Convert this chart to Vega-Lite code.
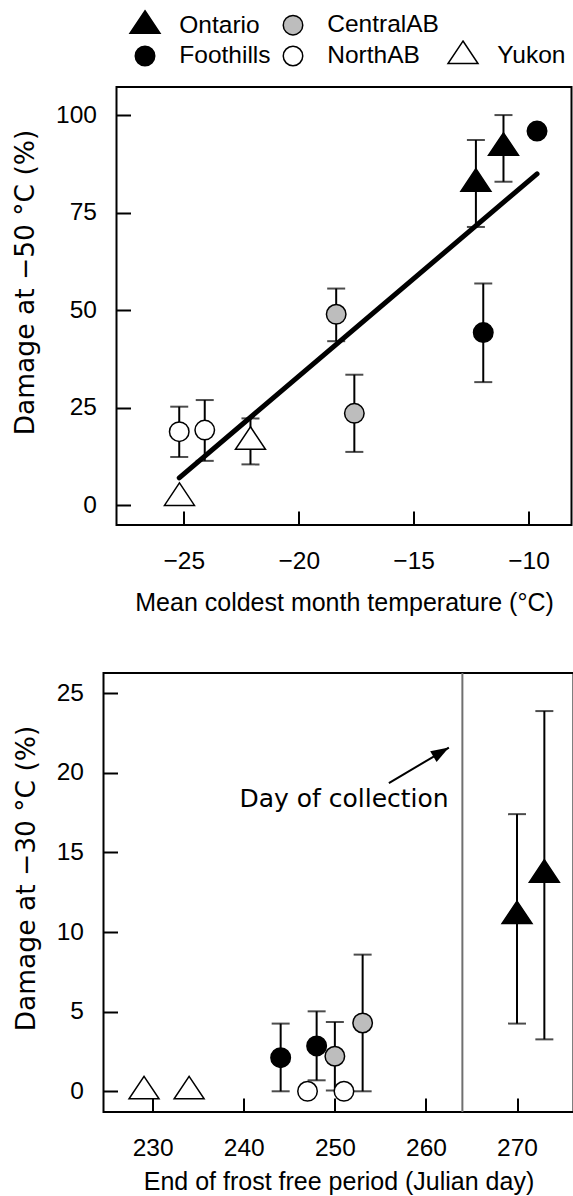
{
  "$schema": "https://vega.github.io/schema/vega-lite/v6.json",
  "background": "white",
  "padding": {"left": 4.5, "top": 8, "right": 0, "bottom": 0},
  "config": {
    "font": "Liberation Sans",
    "view": {"stroke": "black", "strokeWidth": 2},
    "axis": {
      "domain": false, "grid": false, "ticks": true, "tickSize": -14, "tickWidth": 2, "tickColor": "black",
      "labelFont": "Liberation Sans", "labelFontSize": 24.5, "labelColor": "black",
      "titleFont": "Liberation Sans", "titleFontSize": 25, "titleFontWeight": "normal", "titleColor": "black"
    },
    "axisX": {"labelPadding": 38, "titlePadding": 10},
    "axisY": {"labelPadding": 34, "titlePadding": 16, "titleFont": "DejaVu Sans", "titleFontSize": 26.5},
    "legend": {
      "orient": "none", "legendX": 12.5, "legendY": -78, "columns": 3, "title": null,
      "labelFont": "Liberation Sans", "labelFontSize": 24.5, "labelColor": "black", "labelOffset": 18.3,
      "rowPadding": 0, "columnPadding": 6, "symbolStrokeWidth": 1.5, "symbolSize": 900, "padding": 0
    }
  },
  "datasets": {
    "cold": [
      {"site": "Yukon", "temp": -25.19, "dmg": 1.9, "lo": null, "hi": null},
      {"site": "NorthAB", "temp": -25.2, "dmg": 18.9, "lo": 12.4, "hi": 25.3},
      {"site": "NorthAB", "temp": -24.09, "dmg": 19.3, "lo": 11.4, "hi": 27.0},
      {"site": "Yukon", "temp": -22.1, "dmg": 16.3, "lo": 10.5, "hi": 22.3},
      {"site": "CentralAB", "temp": -18.37, "dmg": 49.0, "lo": 42.1, "hi": 55.6},
      {"site": "CentralAB", "temp": -17.58, "dmg": 23.6, "lo": 13.7, "hi": 33.5},
      {"site": "Ontario", "temp": -12.29, "dmg": 82.5, "lo": 71.4, "hi": 93.7},
      {"site": "Ontario", "temp": -11.09, "dmg": 91.7, "lo": 83.0, "hi": 100.1},
      {"site": "Foothills", "temp": -11.97, "dmg": 44.3, "lo": 31.6, "hi": 56.9},
      {"site": "Foothills", "temp": -9.63, "dmg": 96.0, "lo": null, "hi": null}
    ],
    "frost": [
      {"site": "Yukon", "day": 229.05, "dmg": 0, "lo": null, "hi": null},
      {"site": "Yukon", "day": 234.0, "dmg": 0, "lo": null, "hi": null},
      {"site": "Foothills", "day": 244.05, "dmg": 2.11, "lo": 0, "hi": 4.25},
      {"site": "Foothills", "day": 248.0, "dmg": 2.85, "lo": 0.69, "hi": 5.02},
      {"site": "CentralAB", "day": 250.0, "dmg": 2.2, "lo": 0.05, "hi": 4.35},
      {"site": "CentralAB", "day": 253.05, "dmg": 4.29, "lo": 0, "hi": 8.58},
      {"site": "NorthAB", "day": 247.0, "dmg": 0, "lo": null, "hi": null},
      {"site": "NorthAB", "day": 251.0, "dmg": 0, "lo": null, "hi": null},
      {"site": "Ontario", "day": 270.0, "dmg": 11.0, "lo": 4.25, "hi": 17.4},
      {"site": "Ontario", "day": 273.0, "dmg": 13.6, "lo": 3.26, "hi": 23.87}
    ],
    "collection": [{"day": 264}],
    "arrow": [{"day": 255.93, "dmg": 19.35, "day2": 262.52, "dmg2": 21.58}],
    "note": [{"day": 262.5, "dmg": 17.85, "label": "Day of collection"}],
    "spacer": [{}]
  },
  "resolve": {"scale": {"shape": "independent", "fill": "independent", "stroke": "independent"}},
  "columns": 1,
  "spacing": 53,
  "concat": [
    {
      "resolve": {"scale": {"shape": "independent", "fill": "independent", "stroke": "independent"}},
      "spacing": 0,
      "hconcat": [
        {
          "width": 1, "height": 1,
          "view": {"stroke": null},
          "data": {"name": "spacer"},
          "mark": {"type": "point", "opacity": 0},
          "encoding": {}
        },
        {
          "width": 455,
          "height": 438,
          "data": {"name": "cold"},
          "encoding": {
            "x": {"field": "temp", "type": "quantitative", "title": "Mean coldest month temperature (°C)",
                  "scale": {"domain": [-27.93, -8.13], "nice": false, "zero": false},
                  "axis": {"values": [-25, -20, -15, -10], "titlePadding": 18}},
            "y": {"field": "dmg", "type": "quantitative", "title": "Damage at −50 °C (%)",
                  "scale": {"domain": [-5.05, 107.3], "nice": false, "zero": false},
                  "axis": {"values": [0, 25, 50, 75, 100], "titleY": 195}}
          },
          "layer": [
            {
              "transform": [{"regression": "dmg", "on": "temp"}],
              "mark": {"type": "line", "color": "black", "strokeWidth": 5, "strokeCap": "round"},
              "encoding": {}
            },
            {
              "transform": [{"filter": "isValid(datum.lo)"}],
              "mark": {"type": "rule", "color": "black", "strokeWidth": 2},
              "encoding": {"y": {"field": "lo", "type": "quantitative", "title": "Damage at −50 °C (%)"}, "y2": {"field": "hi"}}
            },
            {
              "transform": [{"filter": "isValid(datum.lo)"}],
              "mark": {"type": "tick", "orient": "horizontal", "color": "black", "size": 18, "thickness": 2},
              "encoding": {"y": {"field": "lo", "type": "quantitative", "title": "Damage at −50 °C (%)"}}
            },
            {
              "transform": [{"filter": "isValid(datum.hi)"}],
              "mark": {"type": "tick", "orient": "horizontal", "color": "black", "size": 18, "thickness": 2},
              "encoding": {"y": {"field": "hi", "type": "quantitative", "title": "Damage at −50 °C (%)"}}
            },
            {
              "mark": {"type": "point", "filled": true, "strokeWidth": 1.5, "opacity": 1, "size": 900},
              "encoding": {
                "shape": {"field": "site", "type": "nominal",
                          "scale": {"domain": ["Ontario", "Foothills", "CentralAB", "NorthAB", " ", "Yukon"],
                                    "range": ["M0,-1L1,0.5L-1,0.5Z", "M-0.65,0A0.65,0.65,0,1,1,0.65,0A0.65,0.65,0,1,1,-0.65,0Z", "M-0.65,0A0.65,0.65,0,1,1,0.65,0A0.65,0.65,0,1,1,-0.65,0Z", "M-0.65,0A0.65,0.65,0,1,1,0.65,0A0.65,0.65,0,1,1,-0.65,0Z", "M-0.65,0A0.65,0.65,0,1,1,0.65,0A0.65,0.65,0,1,1,-0.65,0Z", "M0,-1L1,0.5L-1,0.5Z"]}},
                "fill": {"field": "site", "type": "nominal",
                         "scale": {"domain": ["Ontario", "Foothills", "CentralAB", "NorthAB", " ", "Yukon"],
                                   "range": ["black", "black", "#bdbdbd", "white", "transparent", "white"]}},
                "stroke": {"field": "site", "type": "nominal",
                           "scale": {"domain": ["Ontario", "Foothills", "CentralAB", "NorthAB", " ", "Yukon"],
                                     "range": ["black", "black", "black", "black", "transparent", "black"]}}
              }
            }
          ]
        }
      ]
    },
    {
      "resolve": {"scale": {"shape": "independent", "fill": "independent", "stroke": "independent"}},
      "spacing": 0,
      "hconcat": [
        {
          "width": 1, "height": 1,
          "view": {"stroke": null},
          "data": {"name": "spacer"},
          "mark": {"type": "point", "opacity": 0},
          "encoding": {}
        },
        {
          "width": 470,
          "height": 439,
          "encoding": {
            "x": {"field": "day", "type": "quantitative", "title": "End of frost free period (Julian day)",
                  "scale": {"domain": [224.6, 276.2], "nice": false, "zero": false},
                  "axis": {"values": [230, 240, 250, 260, 270]}},
            "y": {"field": "dmg", "type": "quantitative", "title": "Damage at −30 °C (%)",
                  "scale": {"domain": [-1.3, 26.26], "nice": false, "zero": false},
                  "axis": {"values": [0, 5, 10, 15, 20, 25], "titleY": 205}}
          },
          "layer": [
            {
              "data": {"name": "collection"},
              "mark": {"type": "rule", "color": "#707070", "strokeWidth": 2},
              "encoding": {"y": null}
            },
            {
              "data": {"name": "arrow"},
              "mark": {"type": "rule", "color": "black", "strokeWidth": 2},
              "encoding": {"x2": {"field": "day2"}, "y2": {"field": "dmg2"}}
            },
            {
              "data": {"name": "arrow"},
              "mark": {"type": "point", "shape": "M0,0L0.7,2L-0.7,2Z", "size": 324, "angle": 59.5, "filled": true, "color": "black", "opacity": 1},
              "encoding": {"x": {"field": "day2", "type": "quantitative", "title": "End of frost free period (Julian day)"},
                           "y": {"field": "dmg2", "type": "quantitative", "title": "Damage at −30 °C (%)"}}
            },
            {
              "data": {"name": "note"},
              "mark": {"type": "text", "font": "DejaVu Sans", "fontSize": 25, "align": "right", "baseline": "alphabetic", "color": "black"},
              "encoding": {"text": {"field": "label"}}
            },
            {
              "data": {"name": "frost"},
              "transform": [{"filter": "isValid(datum.lo)"}],
              "mark": {"type": "rule", "color": "black", "strokeWidth": 2},
              "encoding": {"y": {"field": "lo", "type": "quantitative", "title": "Damage at −30 °C (%)"}, "y2": {"field": "hi"}}
            },
            {
              "data": {"name": "frost"},
              "transform": [{"filter": "isValid(datum.lo)"}],
              "mark": {"type": "tick", "orient": "horizontal", "color": "black", "size": 18, "thickness": 2},
              "encoding": {"y": {"field": "lo", "type": "quantitative", "title": "Damage at −30 °C (%)"}}
            },
            {
              "data": {"name": "frost"},
              "transform": [{"filter": "isValid(datum.hi)"}],
              "mark": {"type": "tick", "orient": "horizontal", "color": "black", "size": 18, "thickness": 2},
              "encoding": {"y": {"field": "hi", "type": "quantitative", "title": "Damage at −30 °C (%)"}}
            },
            {
              "data": {"name": "frost"},
              "mark": {"type": "point", "filled": true, "strokeWidth": 1.5, "opacity": 1, "size": 900},
              "encoding": {
                "shape": {"field": "site", "type": "nominal", "legend": null,
                          "scale": {"domain": ["Ontario", "Foothills", "CentralAB", "NorthAB", " ", "Yukon"],
                                    "range": ["M0,-1L1,0.5L-1,0.5Z", "M-0.65,0A0.65,0.65,0,1,1,0.65,0A0.65,0.65,0,1,1,-0.65,0Z", "M-0.65,0A0.65,0.65,0,1,1,0.65,0A0.65,0.65,0,1,1,-0.65,0Z", "M-0.65,0A0.65,0.65,0,1,1,0.65,0A0.65,0.65,0,1,1,-0.65,0Z", "M-0.65,0A0.65,0.65,0,1,1,0.65,0A0.65,0.65,0,1,1,-0.65,0Z", "M0,-1L1,0.5L-1,0.5Z"]}},
                "fill": {"field": "site", "type": "nominal", "legend": null,
                         "scale": {"domain": ["Ontario", "Foothills", "CentralAB", "NorthAB", " ", "Yukon"],
                                   "range": ["black", "black", "#bdbdbd", "white", "transparent", "white"]}},
                "stroke": {"field": "site", "type": "nominal", "legend": null,
                           "scale": {"domain": ["Ontario", "Foothills", "CentralAB", "NorthAB", " ", "Yukon"],
                                     "range": ["black", "black", "black", "black", "transparent", "black"]}}
              }
            }
          ]
        }
      ]
    }
  ]
}
